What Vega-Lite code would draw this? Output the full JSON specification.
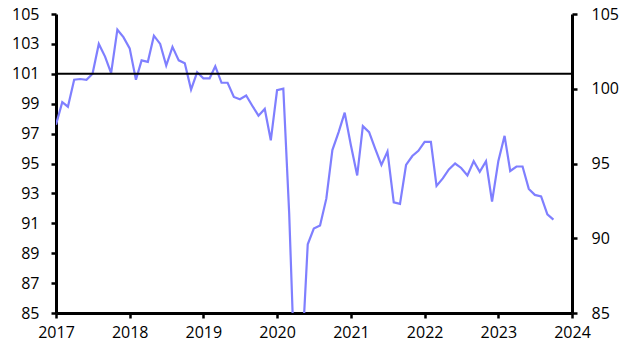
{
  "$schema": "https://vega.github.io/schema/vega-lite/v6.json",
  "autosize": {"type": "none"},
  "width": 516,
  "height": 299,
  "padding": {"left": 56, "top": 14, "right": 58, "bottom": 41},
  "background": "white",
  "config": {
    "view": {"stroke": null},
    "font": "Open Sans",
    "axis": {
      "grid": false,
      "domainColor": "black",
      "domainWidth": 3,
      "tickColor": "black",
      "tickWidth": 2.5,
      "tickSize": 5,
      "labelFont": "Open Sans",
      "labelFontSize": 16,
      "labelColor": "black",
      "title": null
    }
  },
  "layer": [
    {
      "data": {
        "values": [
          {"date": "2017-01-01", "value": 97.6},
          {"date": "2017-02-01", "value": 99.1},
          {"date": "2017-03-01", "value": 98.8},
          {"date": "2017-04-01", "value": 100.6},
          {"date": "2017-05-01", "value": 100.65},
          {"date": "2017-06-01", "value": 100.6},
          {"date": "2017-07-01", "value": 101.0},
          {"date": "2017-08-01", "value": 103.0},
          {"date": "2017-09-01", "value": 102.15},
          {"date": "2017-10-01", "value": 101.05},
          {"date": "2017-11-01", "value": 103.95},
          {"date": "2017-12-01", "value": 103.45},
          {"date": "2018-01-01", "value": 102.7},
          {"date": "2018-02-01", "value": 100.6},
          {"date": "2018-03-01", "value": 101.9},
          {"date": "2018-04-01", "value": 101.8},
          {"date": "2018-05-01", "value": 103.55},
          {"date": "2018-06-01", "value": 103.0},
          {"date": "2018-07-01", "value": 101.55},
          {"date": "2018-08-01", "value": 102.8},
          {"date": "2018-09-01", "value": 101.9},
          {"date": "2018-10-01", "value": 101.7},
          {"date": "2018-11-01", "value": 99.95},
          {"date": "2018-12-01", "value": 101.1},
          {"date": "2019-01-01", "value": 100.7},
          {"date": "2019-02-01", "value": 100.7},
          {"date": "2019-03-01", "value": 101.5},
          {"date": "2019-04-01", "value": 100.4},
          {"date": "2019-05-01", "value": 100.4},
          {"date": "2019-06-01", "value": 99.45},
          {"date": "2019-07-01", "value": 99.3},
          {"date": "2019-08-01", "value": 99.55},
          {"date": "2019-09-01", "value": 98.85},
          {"date": "2019-10-01", "value": 98.2},
          {"date": "2019-11-01", "value": 98.65},
          {"date": "2019-12-01", "value": 96.55},
          {"date": "2020-01-01", "value": 99.9},
          {"date": "2020-02-01", "value": 100.0},
          {"date": "2020-03-01", "value": 91.7},
          {"date": "2020-04-01", "value": 79.5},
          {"date": "2020-05-01", "value": 81.5},
          {"date": "2020-06-01", "value": 89.6},
          {"date": "2020-07-01", "value": 90.65},
          {"date": "2020-08-01", "value": 90.85},
          {"date": "2020-09-01", "value": 92.65},
          {"date": "2020-10-01", "value": 95.9},
          {"date": "2020-11-01", "value": 97.1},
          {"date": "2020-12-01", "value": 98.4},
          {"date": "2021-01-01", "value": 96.2},
          {"date": "2021-02-01", "value": 94.2},
          {"date": "2021-03-01", "value": 97.5},
          {"date": "2021-04-01", "value": 97.1},
          {"date": "2021-05-01", "value": 96.0},
          {"date": "2021-06-01", "value": 94.9},
          {"date": "2021-07-01", "value": 95.8},
          {"date": "2021-08-01", "value": 92.4},
          {"date": "2021-09-01", "value": 92.3},
          {"date": "2021-10-01", "value": 94.9},
          {"date": "2021-11-01", "value": 95.5},
          {"date": "2021-12-01", "value": 95.85},
          {"date": "2022-01-01", "value": 96.45},
          {"date": "2022-02-01", "value": 96.45},
          {"date": "2022-03-01", "value": 93.5},
          {"date": "2022-04-01", "value": 94.0},
          {"date": "2022-05-01", "value": 94.6},
          {"date": "2022-06-01", "value": 95.0},
          {"date": "2022-07-01", "value": 94.7},
          {"date": "2022-08-01", "value": 94.2},
          {"date": "2022-09-01", "value": 95.15},
          {"date": "2022-10-01", "value": 94.45},
          {"date": "2022-11-01", "value": 95.15},
          {"date": "2022-12-01", "value": 92.45},
          {"date": "2023-01-01", "value": 95.15},
          {"date": "2023-02-01", "value": 96.85},
          {"date": "2023-03-01", "value": 94.5},
          {"date": "2023-04-01", "value": 94.8},
          {"date": "2023-05-01", "value": 94.8},
          {"date": "2023-06-01", "value": 93.3},
          {"date": "2023-07-01", "value": 92.9},
          {"date": "2023-08-01", "value": 92.8},
          {"date": "2023-09-01", "value": 91.6},
          {"date": "2023-10-01", "value": 91.25}
        ]
      },
      "mark": {"type": "line", "color": "#7f7fff", "strokeWidth": 2.2, "clip": true},
      "encoding": {
        "x": {
          "field": "date",
          "type": "temporal",
          "scale": {
            "type": "utc",
            "domain": [
              {"year": 2017, "month": 1, "date": 1, "utc": true},
              {"year": 2024, "month": 1, "date": 1, "utc": true}
            ]
          },
          "axis": {
            "values": [
              {"year": 2017, "month": 1, "date": 1, "utc": true},
              {"year": 2018, "month": 1, "date": 1, "utc": true},
              {"year": 2019, "month": 1, "date": 1, "utc": true},
              {"year": 2020, "month": 1, "date": 1, "utc": true},
              {"year": 2021, "month": 1, "date": 1, "utc": true},
              {"year": 2022, "month": 1, "date": 1, "utc": true},
              {"year": 2023, "month": 1, "date": 1, "utc": true},
              {"year": 2024, "month": 1, "date": 1, "utc": true}
            ],
            "format": "%Y",
            "labelPadding": 6,
            "labelFlush": false,
            "labelOverlap": false
          }
        },
        "y": {
          "field": "value",
          "type": "quantitative",
          "scale": {"domain": [85, 105], "nice": false, "zero": false},
          "axis": {
            "orient": "left",
            "values": [85, 87, 89, 91, 93, 95, 97, 99, 101, 103, 105],
            "labelPadding": 12
          }
        }
      }
    },
    {
      "data": {"values": [{"level": 101}]},
      "mark": {"type": "rule", "color": "black", "strokeWidth": 2},
      "encoding": {
        "y": {
          "field": "level",
          "type": "quantitative",
          "scale": {"domain": [85, 105], "nice": false, "zero": false},
          "axis": {
            "orient": "right",
            "values": [85, 90, 95, 100, 105],
            "labelPadding": 14
          }
        }
      }
    }
  ],
  "resolve": {"scale": {"y": "independent"}}
}
